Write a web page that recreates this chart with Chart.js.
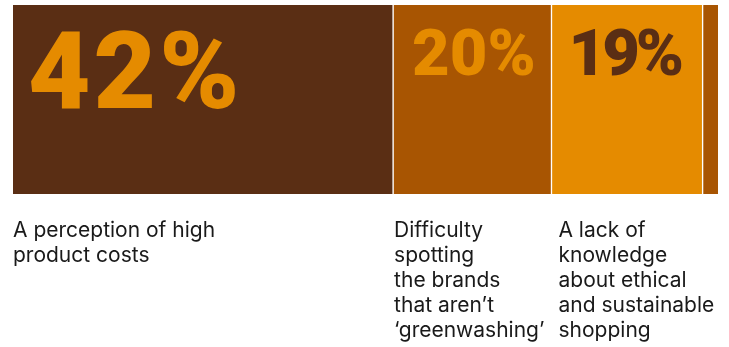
<!DOCTYPE html>
<html lang="en">

<head>
    <meta charset="UTF-8">
    <title>Barriers to ethical shopping</title>
    <style>
        body {
            background-color: #ffffff;
            margin: 0;
            padding: 0;
        }

        #wrap {
            width: 729px;
            height: 347px;
        }
    </style>
</head>

<body>
    <div id="wrap"><canvas id="barChart"></canvas></div>

    <script src="https://cdn.jsdelivr.net/npm/chart.js"></script>

    <script>
        // share labels printed inside each segment
        const shareLabels = ['42%', '20%', '19%', ''];
        // segment lengths as drawn in the graphic (it is not strictly to scale)
        const segmentLengths = [42, 17.5, 16.7, 1.7];
        const captions = [
            ['A perception of high', 'product costs'],
            ['Difficulty', 'spotting', 'the brands', 'that aren\u2019t', '\u2018greenwashing\u2019'],
            ['A lack of', 'knowledge', 'about ethical', 'and sustainable', 'shopping'],
            []
        ];

        const fillColors = ['#5a2e14', '#a85502', '#e58b00', '#a85502'];
        const textColors = ['#e58b00', '#e58b00', '#5a2e14', '#e58b00'];
        const fontSizes = [108, 65, 65, 65];
        const textBaselines = [108, 75, 75, 75];
        const numberIndent = [15, 19, 17, 0];
        const numberSpacing = [3, 0, -4, 0];
        const captionIndent = [0, 1, 7, 0];

        const labelPlugin = {
            id: 'segmentLabels',
            afterDatasetsDraw(chart) {
                const ctx = chart.ctx;
                ctx.save();
                chart.data.datasets.forEach((ds, i) => {
                    const bar = chart.getDatasetMeta(i).data[0];
                    const left = bar.base;
                    // big share number
                    if (shareLabels[i]) {
                        ctx.font = '900 ' + fontSizes[i] + 'px Roboto';
                        ctx.letterSpacing = numberSpacing[i] + 'px';
                        ctx.fillStyle = textColors[i];
                        ctx.textAlign = 'left';
                        ctx.textBaseline = 'alphabetic';
                        ctx.fillText(shareLabels[i], left + numberIndent[i], textBaselines[i]);
                    }
                    // caption below the bar
                    ctx.font = '400 21px Inter';
                    ctx.letterSpacing = '0px';
                    ctx.fillStyle = '#1a1a1a';
                    captions[i].forEach((line, j) => {
                        ctx.fillText(line, left + captionIndent[i], 237 + j * 25);
                    });
                });
                ctx.restore();
            }
        };

        const ctx = document.getElementById('barChart').getContext('2d');

        const barChart = new Chart(ctx, {
            type: 'bar',
            data: {
                labels: ['Barriers'],
                datasets: segmentLengths.map((v, i) => ({
                    label: shareLabels[i],
                    data: [v],
                    backgroundColor: fillColors[i],
                    borderColor: '#ffffff',
                    borderWidth: { left: i === 0 ? 0 : 1, right: i === 3 ? 0 : 1, top: 0, bottom: 0 },
                    borderSkipped: false,
                    barPercentage: 1,
                    categoryPercentage: 1
                }))
            },
            options: {
                indexAxis: 'y',
                responsive: true,
                maintainAspectRatio: false,
                animation: false,
                layout: {
                    padding: { left: 13, right: 11, top: 5, bottom: 153 }
                },
                scales: {
                    x: {
                        stacked: true,
                        display: false,
                        min: 0,
                        max: segmentLengths.reduce((a, b) => a + b, 0)
                    },
                    y: {
                        stacked: true,
                        display: false
                    }
                },
                plugins: {
                    legend: { display: false },
                    tooltip: { enabled: false }
                }
            },
            plugins: [labelPlugin]
        });
    </script>
</body>

</html>
